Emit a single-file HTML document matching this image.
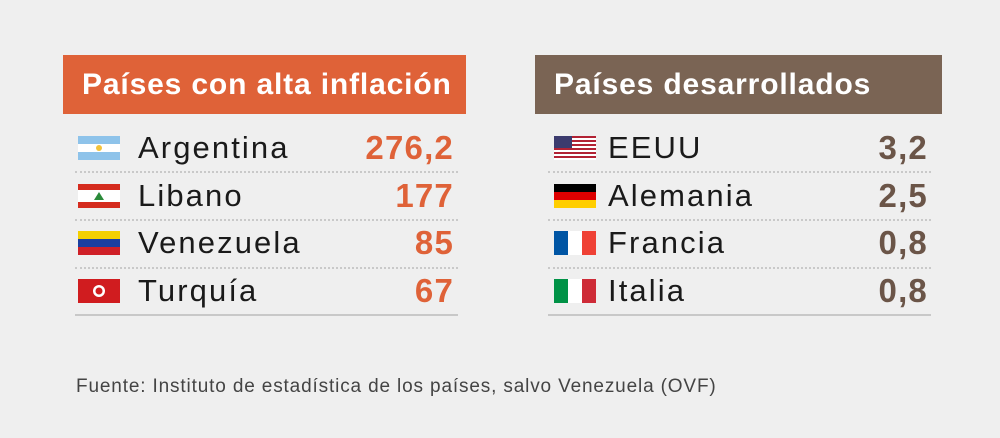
<!DOCTYPE html>
<html><head><meta charset="utf-8"><style>
body{margin:0;width:1000px;height:438px;background:#efefef;font-family:"Liberation Sans",sans-serif;position:relative;overflow:hidden}
.hdr{position:absolute;top:55px;height:59px;color:#fff;font-weight:bold;font-size:30px;letter-spacing:0.85px;line-height:59px;box-sizing:border-box;padding-left:19px;white-space:nowrap}
.row{position:absolute;height:48px;line-height:48px;font-size:31px;color:#1a1a1a}
.sep{position:absolute;height:0;border-top:2px dotted #c9c9c9}
.flag{position:absolute;width:42px;height:24px;top:12px}
.name{position:absolute;left:60px;letter-spacing:2.1px}
.val{position:absolute;right:4px;font-weight:bold;font-size:33px;letter-spacing:1.2px}
.bot{position:absolute;height:2px;background:#c8c8c8}
</style></head><body>
<div class="hdr" style="left:63px;width:403px;background:#df6238">Países con alta inflación</div>
<div class="hdr" style="left:535px;width:407px;background:#7a6454">Países desarrollados</div>

<div id="L" style="position:absolute;left:78px;top:0;width:380px">
 <div class="row" style="top:124px;width:380px">
  <svg class="flag" viewBox="0 0 42 24"><rect width="42" height="24" fill="#8ec3ea"/><rect y="8" width="42" height="8" fill="#fff"/><circle cx="21" cy="12" r="3" fill="#f2c23a"/></svg>
  <span class="name">Argentina</span><span class="val" style="color:#df6238">276,2</span></div>
 <div class="row" style="top:172px;width:380px">
  <svg class="flag" viewBox="0 0 42 24"><rect width="42" height="24" fill="#d52b1e"/><rect y="6" width="42" height="12" fill="#fff"/><path d="M21 8 L26 16 L16 16Z" fill="#2a8a3a"/></svg>
  <span class="name">Libano</span><span class="val" style="color:#df6238">177</span></div>
 <div class="row" style="top:219px;width:380px">
  <svg class="flag" viewBox="0 0 42 24"><rect width="42" height="8" fill="#f4d000"/><rect y="8" width="42" height="8" fill="#1b3fa0"/><rect y="16" width="42" height="8" fill="#cf2027"/></svg>
  <span class="name">Venezuela</span><span class="val" style="color:#df6238">85</span></div>
 <div class="row" style="top:267px;width:380px">
  <svg class="flag" viewBox="0 0 42 24"><rect width="42" height="24" fill="#d01c1f"/><circle cx="21" cy="12" r="6" fill="#fff"/><circle cx="21" cy="12" r="3.5" fill="#d01c1f"/></svg>
  <span class="name">Turquía</span><span class="val" style="color:#df6238">67</span></div>
</div>
<div class="sep" style="left:75px;width:383px;top:171px"></div>
<div class="sep" style="left:75px;width:383px;top:219px"></div>
<div class="sep" style="left:75px;width:383px;top:267px"></div>
<div class="bot" style="left:75px;width:383px;top:314px"></div>

<div style="position:absolute;left:554px;top:0;width:378px">
 <div class="row" style="top:124px;width:378px">
  <svg class="flag" viewBox="0 0 42 24"><rect width="42" height="24" fill="#b22234"/><g fill="#fff"><rect y="2" width="42" height="2"/><rect y="6" width="42" height="2"/><rect y="10" width="42" height="2"/><rect y="14" width="42" height="2"/><rect y="18" width="42" height="2"/><rect y="22" width="42" height="2"/></g><rect width="18" height="12" fill="#3c3b6e"/></svg>
  <span class="name" style="left:54px">EEUU</span><span class="val" style="color:#6b5548">3,2</span></div>
 <div class="row" style="top:172px;width:378px">
  <svg class="flag" viewBox="0 0 42 24"><rect width="42" height="8" fill="#000"/><rect y="8" width="42" height="8" fill="#dd0000"/><rect y="16" width="42" height="8" fill="#ffce00"/></svg>
  <span class="name" style="left:54px">Alemania</span><span class="val" style="color:#6b5548">2,5</span></div>
 <div class="row" style="top:219px;width:378px">
  <svg class="flag" viewBox="0 0 42 24"><rect width="14" height="24" fill="#0055a4"/><rect x="14" width="14" height="24" fill="#fff"/><rect x="28" width="14" height="24" fill="#ef4135"/></svg>
  <span class="name" style="left:54px">Francia</span><span class="val" style="color:#6b5548">0,8</span></div>
 <div class="row" style="top:267px;width:378px">
  <svg class="flag" viewBox="0 0 42 24"><rect width="14" height="24" fill="#009246"/><rect x="14" width="14" height="24" fill="#fff"/><rect x="28" width="14" height="24" fill="#ce2b37"/></svg>
  <span class="name" style="left:54px">Italia</span><span class="val" style="color:#6b5548">0,8</span></div>
</div>
<div class="sep" style="left:548px;width:383px;top:219px"></div>
<div class="sep" style="left:548px;width:383px;top:267px"></div>
<div class="sep" style="left:548px;width:383px;top:171px"></div>
<div class="bot" style="left:548px;width:383px;top:314px"></div>

<div style="position:absolute;left:76px;top:376px;font-size:19px;letter-spacing:0.85px;color:#444;white-space:nowrap">Fuente: Instituto de estadística de los países, salvo Venezuela (OVF)</div>
</body></html>
